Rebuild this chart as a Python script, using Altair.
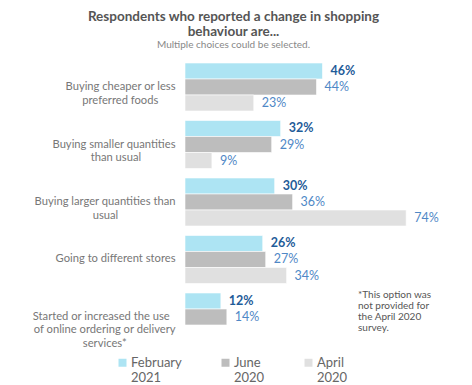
import altair as alt
import pandas as pd

categories = [
    "Buying cheaper or less|preferred foods",
    "Buying smaller quantities|than usual",
    "Buying larger quantities than|usual",
    "Going to different stores",
    "Started or increased the use|of online ordering or delivery|services*",
]
series = ["February 2021", "June 2020", "April 2020"]
feb = [46, 32, 30, 26, 12]
jun = [44, 29, 36, 27, 14]
apr = [23, 9, 74, 34, None]
colors = ["#ade4f3", "#bdbdbd", "#e0e0e0"]
footnote = ["*This option was", "not provided for", "the April 2020", "survey."]

NBSP = "\u00a0"
ZWSP = "\u200b"  # keeps the trailing padding from being trimmed


def centered_block(label, k=0.82):
    # right-aligned block whose shorter lines sit centred under the longest one
    lines = label.split("|")
    m = max(len(s) for s in lines)
    out = []
    for s in lines:
        n = round((m - len(s)) * k)
        out.append(s + NBSP * n + (ZWSP if n else ""))
    return "|".join(out)


display = {c: centered_block(c) for c in categories}

rows = []
for s, vals in zip(series, [feb, jun, apr]):
    for c, v in zip(categories, vals):
        if v is not None:
            rows.append({"category": display[c], "series": s, "value": v, "label": f"{v}%"})
df = pd.DataFrame(rows)

FONT = "Lato"

y = alt.Y(
    "category:N",
    sort=[display[c] for c in categories],
    scale=alt.Scale(paddingInner=0.165, paddingOuter=0),
    axis=alt.Axis(
        title=None,
        domain=False,
        ticks=False,
        labelExpr="split(datum.label, '|')",
        labelFont=FONT,
        labelFontSize=11.2,
        labelColor="#777777",
        labelAlign="right",
        labelPadding=10,
        labelLimit=300,
        labelLineHeight=13.5,
        minExtent=172,
    ),
)
yoff = alt.YOffset("series:N", sort=series, scale=alt.Scale(domain=series, paddingInner=0, paddingOuter=0))
x = alt.X("value:Q", scale=alt.Scale(domain=[0, 90]), axis=None)

base = alt.Chart(df)

bars = base.mark_bar(stroke="white", strokeWidth=0.6).encode(
    x=x,
    y=y,
    yOffset=yoff,
    color=alt.Color(
        "series:N",
        sort=series,
        scale=alt.Scale(domain=series, range=colors),
        legend=alt.Legend(
            title=None,
            orient="none",
            legendX=-69,
            legendY=293,
            direction="horizontal",
            labelExpr="split(datum.label, ' ')",
            symbolType="square",
            symbolSize=64,
            symbolStrokeWidth=0,
            labelFont=FONT,
            labelFontSize=13,
            labelColor="#666666",
            labelOffset=2,
            columnPadding=37,
            labelLimit=200,
        ),
    ),
)

feb_text = base.transform_filter(alt.datum.series == series[0]).mark_text(
    align="left", baseline="middle", dx=8, font=FONT, fontSize=12.5, fontWeight="bold", color="#1f5c99"
).encode(x=x, y=y, yOffset=yoff, text="label:N")

other_text = base.transform_filter(alt.datum.series != series[0]).mark_text(
    align="left", baseline="middle", dx=8, font=FONT, fontSize=12.5, color="#4f88c6"
).encode(x=x, y=y, yOffset=yoff, text="label:N")

note = alt.Chart(pd.DataFrame({"n": [1]})).mark_text(
    text=footnote, align="left", baseline="top", font=FONT, fontSize=10, color="#555555", lineHeight=11
).encode(x=alt.value(173), y=alt.value(227))

chart = alt.layer(bars, feb_text, other_text, note).properties(
    width=269,
    height=278,
    padding={"left": 5, "top": 2, "right": 5, "bottom": 0},
    title=alt.TitleParams(
        text=["Respondents who reported a change in shopping", "behaviour are..."],
        subtitle="Multiple choices could be selected.",
        font=FONT,
        fontSize=13.5,
        fontWeight="bold",
        color="#555555",
        lineHeight=15,
        subtitleFont=FONT,
        subtitleFontSize=10,
        subtitleColor="#888888",
        subtitlePadding=1,
        anchor="middle",
        frame="bounds",
        offset=13,
    ),
).configure_view(stroke=None)

chart.save("out.html", embed_options={"renderer": "svg", "actions": False})
